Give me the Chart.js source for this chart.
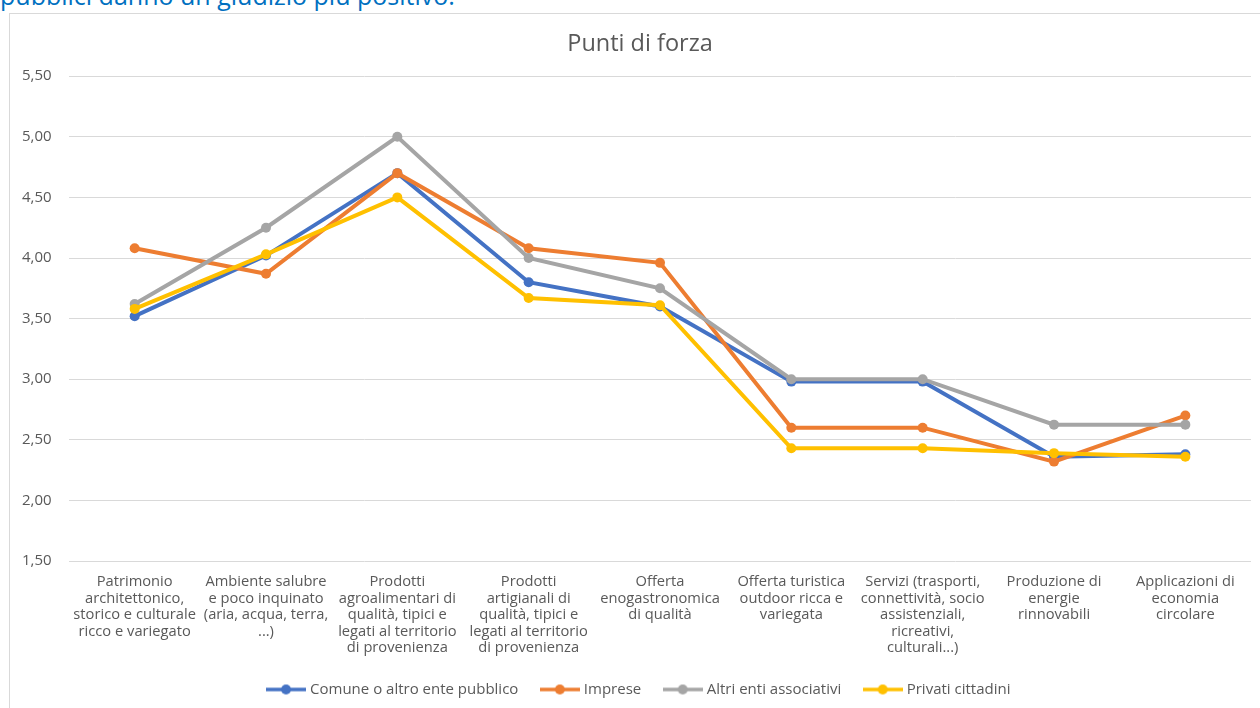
<!DOCTYPE html>
<html>
<head>
<meta charset="utf-8">
<script src="https://cdn.jsdelivr.net/npm/chart.js@4/dist/chart.umd.min.js"></script>
<style>
  html, body { margin: 0; padding: 0; background: #fff; overflow: hidden; }
  #wrap { position: relative; width: 1260px; height: 708px; }
  #intro { position: absolute; left: 0; top: -20px; font: 25px/30px "Open Sans", sans-serif; color: #0070C0; white-space: nowrap; }
  #frame { position: absolute; left: 9px; top: 13px; width: 1260px; height: 720px; border: 1px solid #d9d9d9; box-sizing: border-box; }
  #chart { position: absolute; left: 0; top: 0; }
</style>
</head>
<body>
<div id="wrap">
  <div id="intro">pubblici danno un giudizio più positivo.</div>
  <div id="frame"></div>
  <canvas id="chart" width="1260" height="708"></canvas>
</div>
<script>
var categories = [
  ['Patrimonio', 'architettonico,', 'storico e culturale', 'ricco e variegato'],
  ['Ambiente salubre', 'e poco inquinato', '(aria, acqua, terra,', '...)'],
  ['Prodotti', 'agroalimentari di', 'qualità, tipici e', 'legati al territorio', 'di provenienza'],
  ['Prodotti', 'artigianali di', 'qualità, tipici e', 'legati al territorio', 'di provenienza'],
  ['Offerta', 'enogastronomica', 'di qualità'],
  ['Offerta turistica', 'outdoor ricca e', 'variegata'],
  ['Servizi (trasporti,', 'connettività, socio', 'assistenziali,', 'ricreativi,', 'culturali...)'],
  ['Produzione di', 'energie', 'rinnovabili'],
  ['Applicazioni di', 'economia', 'circolare']
];
var comune = [3.52, 4.02, 4.70, 3.80, 3.60, 2.98, 2.98, 2.36, 2.38];
var imprese = [4.08, 3.87, 4.70, 4.08, 3.96, 2.60, 2.60, 2.32, 2.70];
var altriEnti = [3.62, 4.25, 5.00, 4.00, 3.75, 3.00, 3.00, 2.625, 2.625];
var privati = [3.58, 4.03, 4.50, 3.67, 3.61, 2.43, 2.43, 2.39, 2.36];
var seriesNames = ['Comune o altro ente pubblico', 'Imprese', 'Altri enti associativi', 'Privati cittadini'];
var colors = ['#4472C4', '#ED7D31', '#A5A5A5', '#FFC000'];
var yTicks = [1.5, 2, 2.5, 3, 3.5, 4, 4.5, 5, 5.5];

// line with a dot in the middle, used as legend marker
function legendMarker(color) {
  var c = document.createElement('canvas');
  c.width = 40; c.height = 12;
  var g = c.getContext('2d');
  g.strokeStyle = color; g.lineWidth = 3.5;
  g.beginPath(); g.moveTo(0, 6); g.lineTo(40, 6); g.stroke();
  g.fillStyle = color;
  g.beginPath(); g.arc(20, 6, 5, 0, Math.PI * 2); g.fill();
  return c;
}

var allData = [comune, imprese, altriEnti, privati];
var datasets = allData.map(function (d, i) {
  return {
    label: seriesNames[i],
    data: d,
    borderColor: colors[i],
    backgroundColor: colors[i],
    borderWidth: 4,
    pointRadius: 5,
    pointBorderWidth: 0,
    pointBackgroundColor: colors[i],
    tension: 0,
    fill: false,
    order: 3 - i
  };
});

var ctx = document.getElementById('chart');
new Chart(ctx, {
  type: 'line',
  data: { labels: categories, datasets: datasets },
  options: {
    responsive: false,
    animation: false,
    events: [],
    layout: { padding: { left: 29, right: 9, top: 0, bottom: 1 } },
    plugins: {
      title: {
        display: true,
        text: 'Punti di forza',
        color: '#595959',
        font: { family: 'Open Sans', size: 23.5, weight: 'normal' },
        padding: { top: 30, bottom: 18 }
      },
      legend: {
        position: 'bottom',
        labels: {
          color: '#595959',
          font: { family: 'Open Sans', size: 15 },
          usePointStyle: true,
          pointStyleWidth: 33,
          padding: 25,
          generateLabels: function (chart) {
            return chart.data.datasets.map(function (ds, i) {
              return {
                text: ds.label,
                datasetIndex: i,
                fontColor: '#595959',
                pointStyle: legendMarker(colors[i]),
                hidden: false,
                lineWidth: 0
              };
            });
          }
        }
      },
      tooltip: { enabled: false }
    },
    scales: {
      x: {
        offset: true,
        grid: { display: false, drawTicks: false },
        border: { display: false },
        ticks: {
          maxRotation: 0,
          autoSkip: false,
          color: '#595959',
          padding: 13,
          font: { family: 'Open Sans', size: 14.7, lineHeight: '16.5px' }
        },
        afterFit: function (scale) { scale.height = 96; }
      },
      y: {
        min: 1.5,
        max: 5.5,
        afterBuildTicks: function (scale) {
          scale.ticks = yTicks.map(function (v) { return { value: v }; });
        },
        grid: { color: '#d9d9d9', lineWidth: 1, drawTicks: false },
        border: { display: false },
        ticks: {
          // mirrored so the labels are not clipped to the narrow axis box
          mirror: true,
          crossAlign: 'near',
          color: '#595959',
          padding: -47,
          font: { family: 'Open Sans', size: 15 },
          callback: function (v) { return v.toFixed(2).replace('.', ','); }
        },
        afterFit: function (scale) { scale.width = 40; }
      }
    }
  }
});
</script>
</body>
</html>
